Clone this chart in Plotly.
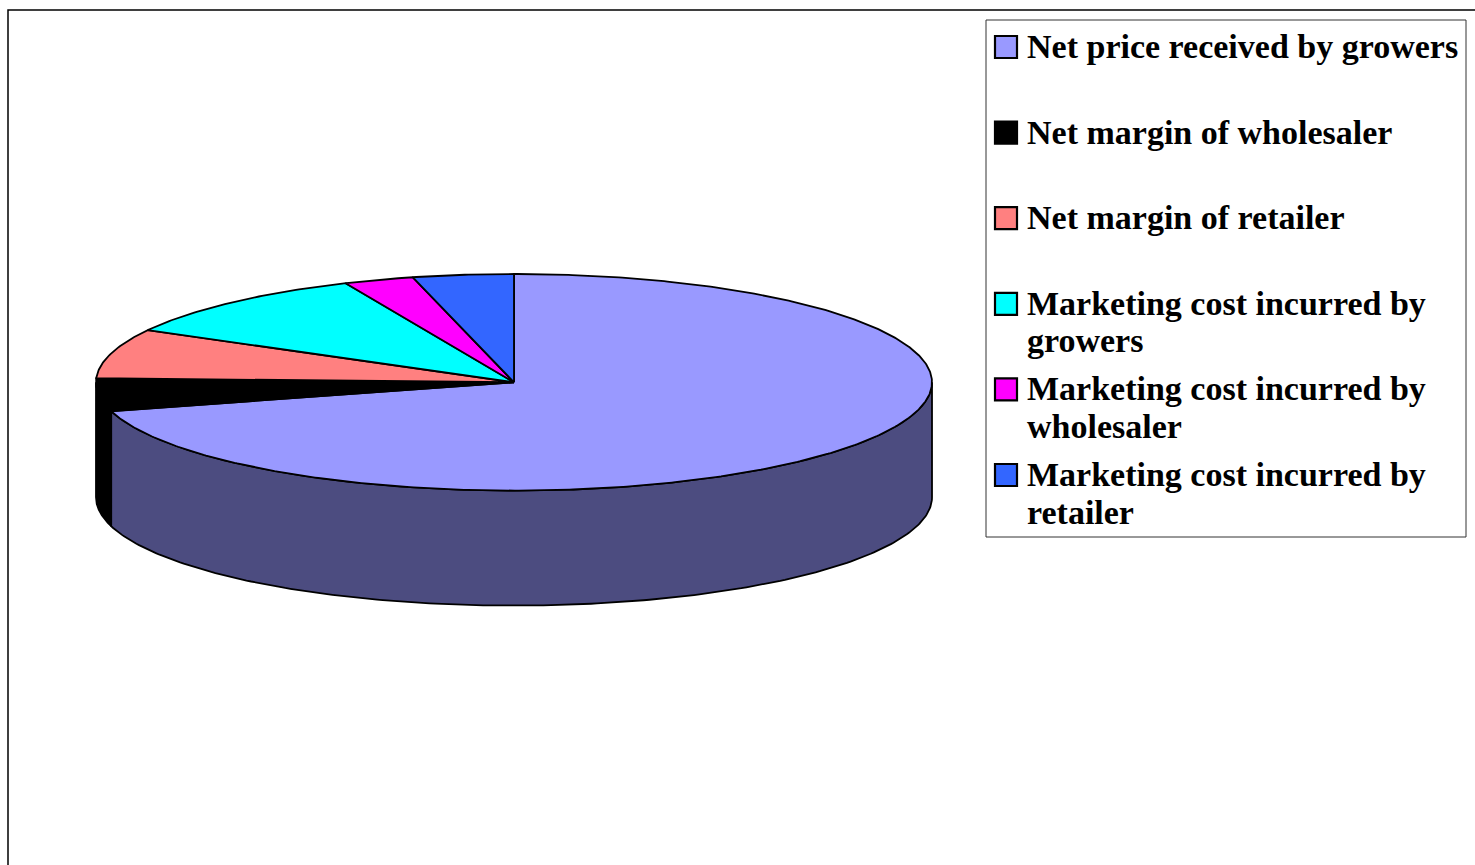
import numpy as np
import plotly.graph_objects as go

# Share of the consumer rupee (%) by component
labels = [
    "Net price received by growers",
    "Net margin of wholesaler",
    "Net margin of retailer",
    "Marketing cost incurred by growers",
    "Marketing cost incurred by wholesaler",
    "Marketing cost incurred by retailer",
]
legend_lines = [
    ["Net price received by growers"],
    ["Net margin of wholesaler"],
    ["Net margin of retailer"],
    ["Marketing cost incurred by", "growers"],
    ["Marketing cost incurred by", "wholesaler"],
    ["Marketing cost incurred by", "retailer"],
]
shares = [70.7, 4.9, 7.4, 10.4, 2.7, 3.9]
top_colors = ["#9999FF", "#000000", "#FF8080", "#00FFFF", "#FF00FF", "#3366FF"]

W, H = 1475, 865
# 3-D pie geometry (screen units)
CX, CY = 514, 382.3
RX, RY = 418, 108.3
DEPTH = 115
FONT = "Liberation Serif, Times New Roman, serif"


def darken(hex_color, f=0.5):
    h = hex_color.lstrip("#")
    r, g, b = (int(h[i:i + 2], 16) for i in (0, 2, 4))
    return "#%02X%02X%02X" % (round(r * f), round(g * f), round(b * f))


def rim(t_deg, drop=0.0):
    t = np.radians(t_deg)
    return CX + RX * np.sin(t), CY - RY * np.cos(t) + drop


fig = go.Figure()

# Cumulative angles, clockwise from 12 o'clock
total = sum(shares)
edges = np.concatenate([[0.0], np.cumsum(shares) / total * 360.0])

# Outer walls: only the front half (90..270 deg) is visible
for i, col in enumerate(top_colors):
    a0, a1 = max(edges[i], 90.0), min(edges[i + 1], 270.0)
    if a1 <= a0:
        continue
    ts = np.linspace(a0, a1, 200)
    xt, yt = rim(ts)
    xb, yb = rim(ts[::-1], DEPTH)
    xs = np.concatenate([xt, xb, xt[:1]])
    ys = np.concatenate([yt, yb, yt[:1]])
    fig.add_trace(go.Scatter(
        x=xs, y=ys, mode="lines", fill="toself",
        fillcolor=darken(col), line=dict(color="#000000", width=1.8),
        hoverinfo="skip", showlegend=False,
    ))

# Top faces
for i, col in enumerate(top_colors):
    ts = np.linspace(edges[i], edges[i + 1], max(int((edges[i + 1] - edges[i]) * 2), 20))
    xa, ya = rim(ts)
    xs = np.concatenate([[CX], xa, [CX]])
    ys = np.concatenate([[CY], ya, [CY]])
    fig.add_trace(go.Scatter(
        x=xs, y=ys, mode="lines", fill="toself",
        fillcolor=col, line=dict(color="#000000", width=1.8),
        name=labels[i], text=[f"{shares[i]}%"] * len(xs),
        hoverinfo="name+text", showlegend=False,
    ))

shapes = [
    # chart frame
    dict(type="rect", xref="x", yref="y", x0=8, y0=10, x1=W + 5, y1=H + 5,
         line=dict(color="#000000", width=1.5), fillcolor="rgba(0,0,0,0)", layer="below"),
    # legend box
    dict(type="rect", xref="x", yref="y", x0=986, y0=20, x1=1466, y1=537,
         line=dict(color="#333333", width=1), fillcolor="rgba(0,0,0,0)"),
]
annotations = []

ROW0, ROW_STEP, LINE_STEP = 36, 85.6, 37.5
for i, lines in enumerate(legend_lines):
    top = ROW0 + i * ROW_STEP
    shapes.append(dict(type="rect", xref="x", yref="y", x0=995, y0=top, x1=1017, y1=top + 22,
                       line=dict(color="#000000", width=2.2), fillcolor=top_colors[i]))
    baseline = top + 22
    for k, txt in enumerate(lines):
        annotations.append(dict(
            x=1025, y=baseline + k * LINE_STEP - 11.5, xref="x", yref="y",
            text=f"<b>{txt}</b>", showarrow=False, xanchor="left", yanchor="middle",
            font=dict(family=FONT, size=34, color="#000000"),
        ))

fig.update_layout(
    width=W, height=H,
    margin=dict(l=0, r=0, t=0, b=0),
    paper_bgcolor="#FFFFFF", plot_bgcolor="#FFFFFF",
    xaxis=dict(range=[0, W], visible=False, fixedrange=True),
    yaxis=dict(range=[H, 0], visible=False, fixedrange=True),
    shapes=shapes, annotations=annotations,
    showlegend=False,
)

fig.write_html("out.html")
